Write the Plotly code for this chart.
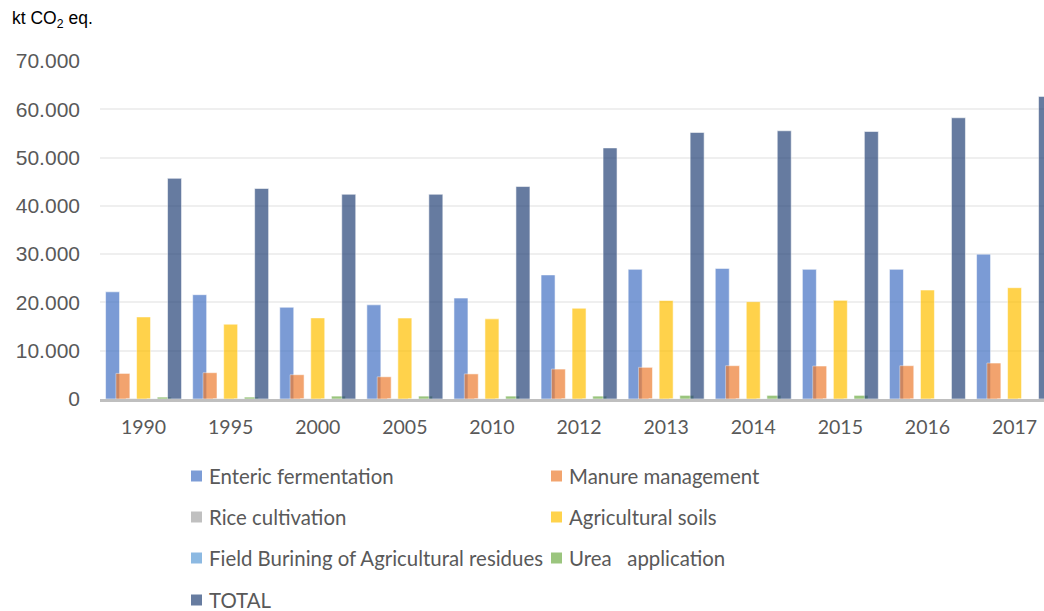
import plotly.graph_objects as go

years = ["1990", "1995", "2000", "2005", "2010", "2012", "2013", "2014", "2015", "2016", "2017"]
enteric = [22200, 21600, 19000, 19500, 20900, 25700, 26850, 27050, 26850, 26850, 30000]
manure = [5300, 5450, 5030, 4600, 5200, 6200, 6560, 6900, 6830, 6900, 7450]
rice = [120, 110, 100, 90, 90, 80, 80, 80, 80, 0, 0]
soils = [17000, 15500, 16800, 16770, 16600, 18800, 20400, 20150, 20430, 22570, 23050]
field_burning = [40, 40, 30, 30, 30, 30, 30, 30, 30, 0, 0]
urea = [400, 400, 600, 600, 600, 600, 750, 750, 750, 0, 0]
total = [45700, 43600, 42400, 42400, 44000, 52000, 55200, 55550, 55400, 58240, 62670]

series_names = ["Enteric fermentation", "Manure management", "Rice cultivation",
                "Agricultural soils", "Field Burining of Agricultural residues",
                "Urea   application", "TOTAL"]
series_values = [enteric, manure, rice, soils, field_burning, urea, total]
colors = ["#4472C4", "#ED7D31", "#A5A5A5", "#FFC000", "#5B9BD5", "#70AD47", "#264478"]

y_tickvals = [0, 10000, 20000, 30000, 40000, 50000, 60000, 70000]
y_ticktext = ["0", "10.000", "20.000", "30.000", "40.000", "50.000", "60.000", "70.000"]

# geometry (pixels); body margin removed via post_script so figure sits at (0,0)
W, H = 1044, 611
L = 100
T = 61
BOTTOM_Y = 399
B = H - BOTTOM_Y
R = 0
plot_w = W - L - R
plot_h = H - T - B
cat_px = 87.1
step = 10.33 / cat_px
bw = 14.0 / cat_px

fig = go.Figure()
for i, (name, vals, col) in enumerate(zip(series_names, series_values, colors)):
    fig.add_trace(go.Bar(
        x=years, y=vals, name=name,
        marker=dict(color=col, line=dict(color="rgba(255,255,255,0.55)", width=1)),
        opacity=0.7,
        width=bw,
        offset=(i - 3) * step - bw / 2,
        showlegend=False,
    ))

# manual legend (two columns); coordinates in screen pixels
def px_to_paper_x(px):
    return (px - L) / plot_w

def py_to_paper_y(py):
    return (BOTTOM_Y - py) / plot_h

col_x = [191, 551]
row_y = [476, 517, 558, 600]
for i, (name, col) in enumerate(zip(series_names, colors)):
    c = i % 2
    r = i // 2
    x0 = col_x[c]
    yc = row_y[r]
    fig.add_shape(type="rect", xref="paper", yref="paper",
                  x0=px_to_paper_x(x0), x1=px_to_paper_x(x0 + 11),
                  y0=py_to_paper_y(yc + 5.5), y1=py_to_paper_y(yc - 5.5),
                  fillcolor=col, opacity=0.7, line=dict(width=0))
    fig.add_annotation(xref="paper", yref="paper",
                       x=px_to_paper_x(x0 + 16), y=py_to_paper_y(yc),
                       xanchor="left", yanchor="middle", showarrow=False,
                       text=name, font=dict(family="Lato", size=20.4, color="#595959"))

fig.add_annotation(xref="paper", yref="paper",
                   x=px_to_paper_x(10), y=py_to_paper_y(20),
                   xanchor="left", yanchor="middle", showarrow=False,
                   text="kt CO<sub>2</sub> eq.",
                   font=dict(family="Liberation Sans", size=17.5, color="#000000"))

fig.update_layout(
    width=W, height=H,
    margin=dict(l=L, r=R, t=T, b=B, pad=0),
    barmode="overlay",
    plot_bgcolor="white",
    paper_bgcolor="white",
    hovermode=False,
    xaxis=dict(type="category", range=[-0.5, -0.5 + plot_w / cat_px],
               showgrid=False, showline=True, linecolor="#BFBFBF", linewidth=3,
               ticks="", ticklabelstandoff=9,
               tickfont=dict(family="Lato", size=19.5, color="#595959")),
    yaxis=dict(range=[0, 70000], tickvals=y_tickvals, ticktext=y_ticktext,
               showgrid=True, gridcolor="#EFEFEF", gridwidth=2,
               zeroline=False, showline=False, ticks="",
               ticklabelstandoff=19,
               tickfont=dict(family="Liberation Sans", size=21, color="#595959")),
)

fig.write_html(
    "out.html",
    config={"displayModeBar": False},
    post_script="document.body.style.margin='0';document.body.style.overflow='hidden';",
)
